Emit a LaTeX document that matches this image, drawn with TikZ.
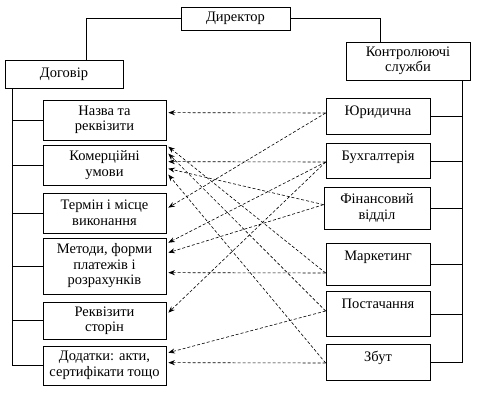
\documentclass[tikz,border=0pt]{standalone}
\usepackage{fontspec}
\setmainfont{Liberation Serif}
\usetikzlibrary{arrows.meta, calc}

\tikzset{
  box/.style={draw, line width=0.7pt, align=center, inner sep=2pt,
              font=\fontsize{14.5}{15.5}\selectfont},
  lbox/.style={box, minimum width=123pt, minimum height=#1},
  rbox/.style={box, minimum width=104pt, anchor=north, inner ysep=3pt,
               text height=14pt, text depth=#1},
  link/.style={line width=0.7pt},
  dashref/.style={dash pattern=on 3pt off 2pt, line width=0.6pt,
                  -{Stealth[length=6.5pt,width=5pt]}},
}

\begin{document}
\begin{tikzpicture}[x=1pt,y=-1pt]
  \useasboundingbox (0,0) rectangle (480,397);
  % top level
  \node[box, minimum width=109pt, minimum height=23pt] (dir) at (235.5,18.5) {Директор};
  \node[box, minimum width=118pt, minimum height=28pt] (dog) at (64,74) {Договір};
  \node[box, minimum width=124pt, minimum height=38pt] (ks) at (408,61) {Контролюючі\\служби};
  \draw[link] (dir.west) -| ([xshift=22pt]dog.north);
  \draw[link] (dir.east) -| ([xshift=-28pt]ks.north);
  % parts of the contract
  \foreach \n/\y/\h/\txt in {l1/120/40pt/{Назва та\\реквізити},
                             l2/165/40pt/{Комерційні\\умови},
                             l3/213/40pt/{Термін і місце\\виконання},
                             l4/266/56pt/{Методи, форми\\платежів і\\розрахунків},
                             l5/320.5/37pt/{Реквізити\\сторін},
                             l6/365.5/39pt/{Додатки: акти,\\сертифікати тощо}}
    \node[lbox=\h] (\n) at (104.5,\y) {\txt};
  % control services
  \foreach \n/\y/\d/\txt in {r1/98/16pt/Юридична, r2/143/15pt/Бухгалтерія,
                             r4/243/22pt/Маркетинг, r5/291/25pt/Постачання,
                             r6/344/16pt/Збут}
    \node[rbox=\d] (\n) at (378,\y) {\txt};
  \node[box, minimum width=106pt, minimum height=42pt] (r3) at (377,208) {Фінансовий\\відділ};
  % bus lines
  \coordinate (lbus) at (12,0);
  \coordinate (rbus) at (462,0);
  \draw[link] (dog.south -| lbus) |- (l6.west);
  \foreach \n in {l1,l2,l3,l4,l5}
    \draw[link] (\n.west) -- (\n.west -| lbus);
  \draw[link] (ks.south -| rbus) |- (r6.east);
  \foreach \n in {r1,r2,r3,r4,r5}
    \draw[link] (\n.east) -- (\n.east -| rbus);
  % which service checks which part
  \foreach \a/\sa/\b/\sb in {r1/15/l1/13, r1/15/l3/15,
                             r2/19/l2/17, r2/19/l4/5, r2/19/l5/11,
                             r3/18/l2/24, r3/18/l4/15,
                             r4/30/l2/2, r4/30/l4/35,
                             r5/20/l2/9, r5/20/l6/7,
                             r6/19/l2/30, r6/19/l6/17}
    \draw[dashref] ($(\a.north west)+(0,\sa)$) -- ($(\b.north east)+(2,\sb)$);
\end{tikzpicture}
\end{document}
